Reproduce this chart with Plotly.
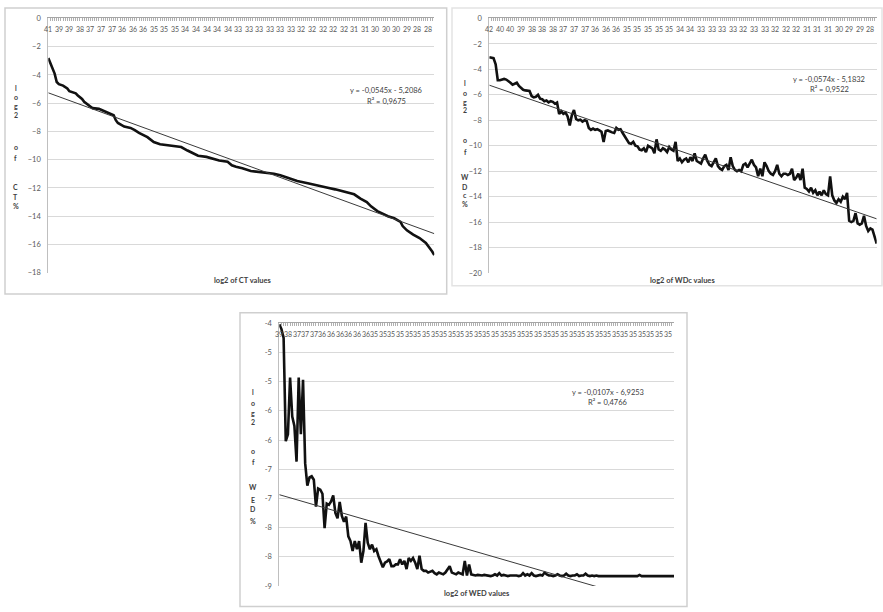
import plotly.graph_objects as go

W, H = 883, 612

# ---------------- data ----------------
# Chart 1: log2 of CT %  (category index, value)
ct_x = [1, 2, 3, 4, 5, 6, 8, 10, 11, 14, 15, 17, 18, 21, 22, 25, 28, 30, 32, 33,
        34, 37, 40, 42, 44, 48, 51, 54, 56, 60, 64, 67, 70, 72, 76, 79, 82, 86, 88, 90,
        93, 97, 101, 105, 108, 111, 115, 119, 124, 129, 134, 137, 141, 146, 149, 152, 154, 157, 160, 162,
        165, 168, 169, 171, 174, 177, 180, 182, 183, 184]
ct_y = [-2.8, -3.2, -3.6, -3.9, -4.5, -4.65, -4.75, -4.95, -5.15, -5.3, -5.45, -5.7, -5.9, -6.2, -6.35, -6.4, -6.6, -6.75, -6.85, -7.2,
        -7.4, -7.65, -7.75, -7.9, -8.1, -8.4, -8.75, -8.9, -8.95, -9.05, -9.1, -9.35, -9.6, -9.72, -9.8, -9.95, -10.05, -10.15, -10.4, -10.5,
        -10.6, -10.8, -10.86, -10.92, -11.0, -11.1, -11.3, -11.5, -11.67, -11.86, -12.0, -12.1, -12.28, -12.45, -12.75, -13.0, -13.3, -13.64, -13.85, -14.0,
        -14.15, -14.4, -14.7, -15.0, -15.3, -15.55, -15.9, -16.25, -16.5, -16.75]
ct_labels = ["41", "39", "39", "38", "37", "37", "37", "36", "36", "36", "35", "35", "35",
             "34", "34", "34", "34", "34", "33", "33", "33", "33", "33", "33", "32", "32",
             "32", "32", "32", "31", "31", "30", "30", "30", "29", "28", "28"]
ct_fit = (-0.0545, -5.2086)

# Chart 2: log2 of WDc %  (one value per category)
wdc_y = [-3.05, -3.08, -3.12, -3.6, -4.85, -4.85, -4.8, -4.75, -4.8, -4.9,
         -5.05, -5.2, -5.1, -5.05, -5.3, -5.45, -5.6, -5.65, -5.65, -5.7,
         -6.1, -6.2, -6.15, -6.0, -6.3, -6.35, -6.5, -6.45, -6.6, -6.5,
         -6.55, -6.7, -6.6, -7.5, -7.3, -7.5, -7.4, -7.7, -8.4, -7.6,
         -7.2, -7.9, -8.0, -7.95, -8.1, -8.0, -8.05, -8.6, -8.75, -8.65,
         -8.75, -8.7, -8.8, -8.9, -9.7, -8.85, -8.8, -8.9, -8.95, -9.0,
         -8.6, -8.75, -8.7, -9.0, -9.3, -9.6, -9.8, -9.85, -9.7, -10.0,
         -10.05, -10.3, -10.35, -10.2, -10.5, -10.0, -10.1, -10.2, -10.6, -9.5,
         -10.3, -10.4, -10.2, -10.3, -10.5, -10.1, -10.3, -10.4, -9.7, -11.2,
         -11.0, -11.3, -11.1, -11.0, -11.3, -10.9, -11.2, -10.6, -11.2, -11.3,
         -11.4, -11.0, -10.7, -11.2, -11.5, -11.6, -11.3, -11.0, -11.6, -11.8,
         -11.9, -11.6, -11.5, -11.9, -10.9, -11.6, -11.9, -12.0, -11.9, -12.0,
         -11.5, -11.4, -11.7, -11.4, -11.1, -11.5, -11.7, -12.4, -11.8, -12.4,
         -11.3, -11.6, -12.0, -12.2, -12.3, -12.0, -11.5, -12.2, -12.4, -12.2,
         -12.2, -12.3, -12.2, -11.8, -12.7, -12.5, -12.2, -12.7, -11.8, -13.3,
         -13.4, -13.6, -13.3, -13.7, -13.5, -13.9, -13.6, -13.9, -13.5, -13.8,
         -13.9, -12.4, -13.9, -14.3, -14.5, -14.2, -14.4, -14.0, -14.2, -13.7,
         -15.9, -16.0, -15.9, -15.3, -16.1, -16.2, -16.1, -15.5, -16.3, -16.7,
         -16.5, -16.6, -17.2, -17.7]
wdc_labels = ["42", "40", "40", "39", "38", "38", "38", "37", "37", "37", "36", "36", "36",
              "35", "35", "35", "35", "35", "34", "34", "33", "33", "33", "33", "32", "33",
              "33", "32", "32", "32", "31", "31", "31", "30", "29", "29", "28"]
wdc_fit = (-0.0574, -5.1832)

# Chart 3: log2 of WED %  (one value per category)
wed_y = [-4.02, -4.1, -4.25, -6.02, -5.9, -4.93, -5.6, -5.76, -6.37, -4.93,
         -5.9, -4.97, -6.4, -6.78, -6.64, -6.62, -6.68, -7.14, -6.83, -6.85,
         -6.92, -7.51, -7.09, -7.11, -7.05, -6.95, -7.25, -7.34, -7.06, -7.3,
         -7.4, -7.31, -7.65, -7.73, -7.9, -7.73, -7.87, -7.73, -8.1, -7.9,
         -7.42, -7.76, -7.87, -7.79, -7.9, -7.87, -7.99, -8.07, -8.18, -8.1,
         -8.08, -8.04, -8.16, -8.16, -8.13, -8.13, -8.04, -8.13, -8.07, -8.21,
         -8.02, -8.07, -8.02, -8.1, -8.21, -7.98, -8.21, -8.24, -8.24, -8.27,
         -8.26, -8.24, -8.28, -8.3, -8.27, -8.28, -8.3, -8.27, -8.22, -8.16,
         -8.27, -8.28, -8.3, -8.27, -8.29, -8.3, -8.07, -8.32, -8.13, -8.3,
         -8.31, -8.32, -8.31, -8.32, -8.32, -8.31, -8.32, -8.32, -8.33, -8.32,
         -8.3, -8.32, -8.28, -8.32, -8.31, -8.32, -8.33, -8.32, -8.32, -8.31,
         -8.32, -8.33, -8.32, -8.28, -8.32, -8.3, -8.32, -8.28, -8.32, -8.33,
         -8.32, -8.31, -8.32, -8.27, -8.3, -8.32, -8.32, -8.33, -8.32, -8.3,
         -8.32, -8.33, -8.32, -8.29, -8.32, -8.33, -8.32, -8.32, -8.3, -8.33,
         -8.32, -8.32, -8.29, -8.32, -8.33, -8.32, -8.33, -8.32, -8.33, -8.33,
         -8.33, -8.33, -8.33, -8.33, -8.33, -8.33, -8.33, -8.33, -8.33, -8.33,
         -8.33, -8.33, -8.33, -8.33, -8.33, -8.33, -8.33, -8.31, -8.33, -8.33,
         -8.33, -8.33, -8.33, -8.33, -8.33, -8.33, -8.33, -8.33, -8.33, -8.33,
         -8.33, -8.33, -8.33, -8.33]
wed_labels = ["39", "38", "37", "37", "37", "36", "36", "36", "36", "36", "36"] + ["35"] * 35
wed_ticks_y = [-4, -4.5, -5, -5.5, -6, -6.5, -7, -7.5, -8, -8.5]
wed_ticks_text = ["-4", "-5", "-5", "-6", "-6", "-7", "-7", "-8", "-8", "-9"]
wed_fit = (-0.0107, -6.9253)

# ---------------- helpers ----------------
def px(x):
    return x / W

def py(y):
    return 1 - y / H

FONT = "Lato"
XTICK = dict(size=7, color="#595959", family=FONT)
YTICK = dict(size=7.5, color="#595959", family=FONT)
GRID = "#d9d9d9"

fig = go.Figure()
ann = []

def add_chart(idx, xs, ys, fit, labels, step, yrange, dom_x, dom_y, label_y,
              ytickvals=None, yticktext=None, dtick=2):
    sfx = "" if idx == 1 else str(idx)
    xa, ya = "x" + sfx, "y" + sfx
    fig.add_trace(go.Scatter(x=xs, y=ys, mode="lines", xaxis=xa, yaxis=ya,
                             line=dict(color="#111111", width=2.6), hoverinfo="skip"))
    x_end = xs[-1]
    fx = [1, x_end]
    fy = [fit[0] * v + fit[1] for v in fx]
    fig.add_trace(go.Scatter(x=fx, y=fy, mode="lines", xaxis=xa, yaxis=ya,
                             line=dict(color="#3a3a3a", width=1), hoverinfo="skip"))
    tickvals = [1 + step * i for i in range(len(labels))]
    fig.layout["xaxis" + sfx] = dict(
        domain=[px(dom_x[0]), px(dom_x[1])], anchor=ya, side="top",
        range=[1, x_end], tickmode="array", tickvals=tickvals, ticktext=[""] * len(labels),
        showticklabels=False, ticks="inside", ticklen=3, tickcolor="#a6a6a6",
        showline=True, linecolor="#a6a6a6", linewidth=1, showgrid=False, zeroline=False,
        minor=dict(ticks="inside", ticklen=3, tick0=1, dtick=1, tickcolor="#b0b0b0", showgrid=False),
    )
    # category labels sit just below the top axis line, inside the plot
    for tv, lab in zip(tickvals, labels):
        ann.append(dict(xref=xa, yref="paper", x=tv, y=py(label_y), text=lab,
                        showarrow=False, xanchor="center", yanchor="middle",
                        font=XTICK, borderpad=0))
    yax = dict(
        domain=[py(dom_y[1]), py(dom_y[0])], anchor=xa, range=yrange,
        showgrid=True, gridcolor=GRID, gridwidth=1, showline=True, linecolor="#bfbfbf",
        linewidth=1, ticks="", zeroline=False, tickfont=YTICK, ticklabelstandoff=5,
    )
    if ytickvals is not None:
        yax.update(tickmode="array", tickvals=ytickvals, ticktext=yticktext)
    else:
        yax.update(dtick=dtick, tick0=0)
    fig.layout["yaxis" + sfx] = yax

add_chart(1, ct_x, ct_y, ct_fit, ct_labels, 5, [-18, 0], (48.3, 434.3), (14.7, 272.7), 25.5)
wdc_x = list(range(1, len(wdc_y) + 1))
add_chart(2, wdc_x, wdc_y, wdc_fit, wdc_labels, 5, [-20, 0], (489.3, 876.7), (14.7, 273.0), 25.5)
wed_x = list(range(1, len(wed_y) + 1))
add_chart(3, wed_x, wed_y, wed_fit, wed_labels, 4, [-8.5, -4], (279.3, 674.0), (324.0, 590.7), 334.5,
          ytickvals=wed_ticks_y, yticktext=wed_ticks_text)

# panel borders
shapes = []
for (x0, y0, x1, y1, col) in [(5, 4, 446.7, 294.3, "#cfcfcf"),
                               (452, 4, 882, 286, "#e3e3e3"),
                               (240, 313.3, 687, 611.5, "#cfcfcf")]:
    shapes.append(dict(type="rect", xref="paper", yref="paper",
                       x0=px(x0), x1=px(x1), y0=py(y1), y1=py(y0),
                       line=dict(color=col, width=1.5), fillcolor="rgba(0,0,0,0)", layer="below"))

def text(x, y, s, size=8, bold=False, color="#404040"):
    ann.append(dict(xref="paper", yref="paper", x=px(x), y=py(y), text=("<b>%s</b>" % s) if bold else s,
                    showarrow=False, xanchor="center", yanchor="middle", borderpad=0,
                    font=dict(size=size, color=color, family=FONT)))

# equations
text(386, 87.3, "y = -0,0545x - 5,2086", 7.5)
text(386.5, 98.5, "R² = 0,9675", 7.5)
text(828.5, 76.7, "y = -0,0574x - 5,1832", 7.5)
text(829, 86.5, "R² = 0,9522", 7.5)
text(607.5, 394.3, "y = -0,0107x - 6,9253", 7.5)
text(607.5, 404.5, "R² = 0,4766", 7.5)

# x axis titles
text(242.5, 280.5, "log2 of CT values", 7.5, True)
text(682.8, 280.5, "log2 of WDc values", 7.5, True)
text(476.7, 598.3, "log2 of WED values", 7.5, True)

# stacked y axis titles (one letter per line)
for x, letters, ys in [
    (15.5, "log2ofCT%", [85, 94.5, 104, 113, 145, 156, 186, 196, 205]),
    (465, "log2ofWDc%", [80, 90, 99, 108, 138, 150, 176, 185.5, 194, 203]),
    (253.3, "log2ofWED%", [394, 404.5, 415, 424, 454, 465, 490, 503, 513, 525]),
]:
    for ch, yy in zip(letters, ys):
        text(x, yy, ch, 7, True)

fig.update_layout(width=W, height=H, margin=dict(l=0, r=0, t=0, b=0),
                  paper_bgcolor="white", plot_bgcolor="white", showlegend=False,
                  shapes=shapes, annotations=ann, hovermode=False)

fig.write_html("out.html", config={"displayModeBar": False, "staticPlot": True},
               post_script="document.body.style.margin='0px';document.body.style.overflow='hidden';")
